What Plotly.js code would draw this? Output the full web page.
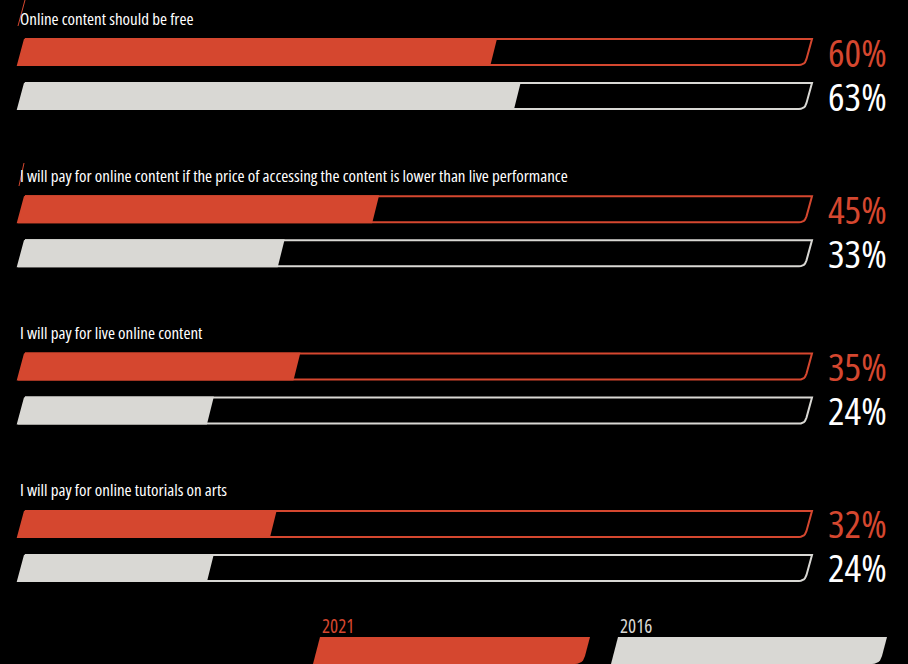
<!DOCTYPE html>
<html><head><meta charset="utf-8">
<script src="https://cdn.plot.ly/plotly-3.0.1.min.js"></script>
<style>
html,body{margin:0;padding:0;background:#000;}
#chart{width:908px;height:664px;}
svg text{font-stretch:75% !important;}
</style>
</head><body><div id="chart"></div>
<script>
const categories = [
  "Online content should be free",
  "I will pay for online content if the price of accessing the content is lower than live performance",
  "I will pay for live online content",
  "I will pay for online tutorials on arts"
];
const seriesNames = ["2021", "2016"];
const values2021 = [60, 45, 35, 32];
const values2016 = [63, 33, 24, 24];

const colors = ["#d5472f", "#d9d8d4"];
const textColors = ["#d5472f", "#ffffff"];
const FONT = "'Open Sans', sans-serif";

const W = 908, H = 664;
const PX0 = 18, K = 7.87;          // pixel of 0%, pixels per percent
const ux = px => (px - PX0) / K;   // pixel -> x units
const S = 7 / K;                   // slant of bar edges
const BAR_H = 28, ROW = 44, GROUP = 157.3, TOP0 = 38;

function fitSize(text, targetW) {
  const c = document.createElement("canvas").getContext("2d");
  c.font = "condensed 100px " + FONT;
  return Math.round(100 * targetW / c.measureText(text).width);
}

function roundedFrame(x0, x1, top, bottom, r) {
  const xs = [x0 + S, x1 + S];
  const ys = [top, top];
  const p2 = [x1 + S * (r / BAR_H), bottom - r];
  const p1 = [x1, bottom];
  const p0 = [x1 - r / K, bottom];
  for (let i = 0; i <= 6; i++) {
    const t = i / 6;
    const a = (1 - t) * (1 - t), b = 2 * (1 - t) * t, c = t * t;
    xs.push(a * p2[0] + b * p1[0] + c * p0[0]);
    ys.push(a * p2[1] + b * p1[1] + c * p0[1]);
  }
  xs.push(x0, x0 + S);
  ys.push(bottom, top);
  return {xs, ys};
}

function draw() {
  const labelSize = Math.min(21, fitSize(categories[1], 563));
  const pctSize = Math.min(42, fitSize("60%", 59));
  const legSize = Math.min(22, fitSize("2021", 33));
  const series = [values2021, values2016];
  const traces = [];
  const annotations = [];

  categories.forEach((cat, g) => {
    const gTop = TOP0 + g * GROUP;
    annotations.push({
      x: ux(18), y: gTop - 20, xref: "x", yref: "y", xanchor: "left", yanchor: "middle",
      text: cat, showarrow: false, font: {family: FONT, size: labelSize, color: "#ffffff"}
    });
    series.forEach((vals, j) => {
      const top = gTop + j * ROW, bottom = top + BAR_H;
      const fr = roundedFrame(0, 100, top + 1, bottom - 1, 6);
      traces.push({
        type: "scatter", mode: "lines", x: fr.xs, y: fr.ys,
        line: {color: colors[j], width: 2}, hoverinfo: "skip", showlegend: false
      });
      const v = vals[g];
      traces.push({
        type: "scatter", mode: "lines", fill: "toself", fillcolor: colors[j],
        x: [0, v, v + S, S, 0], y: [bottom, bottom, top, top, bottom],
        line: {width: 0, color: colors[j]}, hoverinfo: "skip", showlegend: false,
        name: seriesNames[j]
      });
      annotations.push({
        x: 889 / W, xref: "paper", y: top + BAR_H / 2 - 1, yref: "y", xanchor: "right", yanchor: "middle",
        text: v + "%", showarrow: false, font: {family: FONT, size: pctSize, color: textColors[j]}
      });
    });
  });

  const legendBars = [[313, 583], [611, 880]];
  seriesNames.forEach((name, j) => {
    const [l, r] = legendBars[j];
    const fr = roundedFrame(ux(l), ux(r), 637, 664, 8);
    traces.push({
      type: "scatter", mode: "lines", fill: "toself", fillcolor: colors[j],
      x: fr.xs, y: fr.ys, line: {width: 0, color: colors[j]}, hoverinfo: "skip", showlegend: false
    });
    annotations.push({
      x: ux(l + 7), y: 626, xref: "x", yref: "y", xanchor: "left", yanchor: "middle",
      text: name, showarrow: false, font: {family: FONT, size: legSize, color: j === 0 ? colors[0] : "#d9d8d4"}
    });
  });

  const shapes = [
    {type: "line", xref: "x", yref: "y", x0: ux(25), y0: 0, x1: ux(18), y1: 26, line: {color: colors[0], width: 1}},
    {type: "line", xref: "x", yref: "y", x0: ux(24), y0: 163, x1: ux(19), y1: 186, line: {color: colors[0], width: 1}}
  ];

  const layout = {
    width: W, height: H, margin: {l: 0, r: 0, t: 0, b: 0},
    paper_bgcolor: "#000", plot_bgcolor: "#000", showlegend: false,
    xaxis: {range: [ux(0), ux(W)], visible: false, fixedrange: true},
    yaxis: {range: [H, 0], visible: false, fixedrange: true},
    annotations, shapes
  };
  Plotly.newPlot("chart", traces, layout, {staticPlot: true, displayModeBar: false});
}

let drawn = false;
function go() { if (!drawn) { drawn = true; draw(); } }
document.fonts.load("condensed 20px 'Open Sans'").then(go, go);
setTimeout(go, 1500);
</script></body></html>
